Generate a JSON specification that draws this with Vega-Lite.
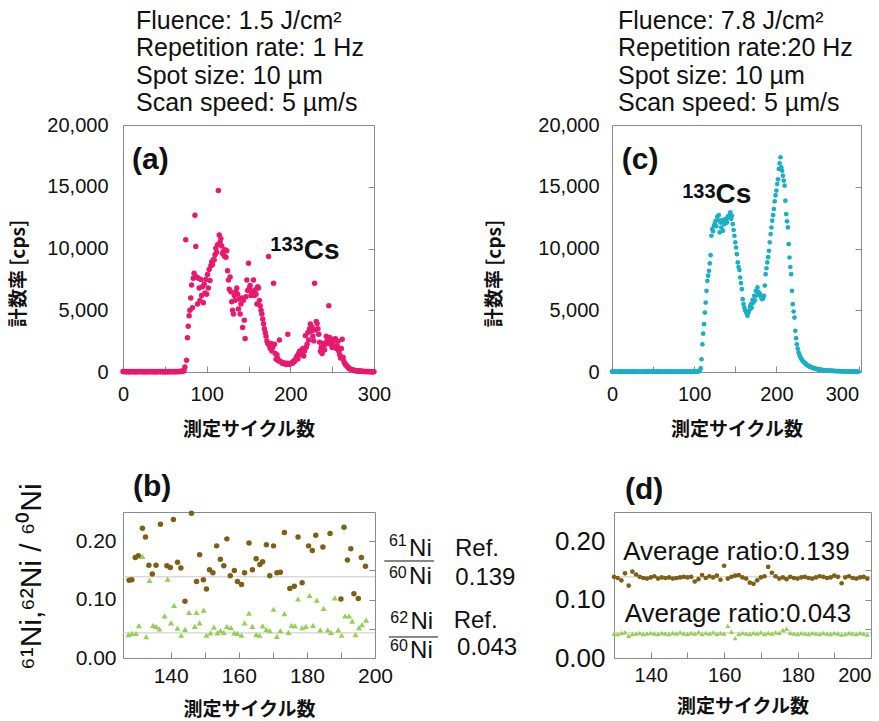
{"$schema":"https://vega.github.io/schema/vega-lite/v6.json","background":"white","padding":{"left":9,"top":8,"right":2,"bottom":2},
"config":{"font":"Liberation Sans","view":{"stroke":"#8a8a8a","strokeWidth":1},"axis":{"labelFont":"Liberation Sans","titleFont":"Liberation Sans","domain":false,"grid":false,"tickColor":"#8a8a8a","labelColor":"#111","titleColor":"#111","labelOverlap":false},"text":{"font":"Liberation Sans","color":"#111"},"title":{"color":"#111","font":"Liberation Sans"}},
"spacing":31,
"vconcat":[
{"hconcat":[
{"width":251,"height":247,
"title":{"text":["Fluence: 1.5 J/cm²","Repetition rate: 1 Hz","Spot size: 10 µm","Scan speed: 5 µm/s"],"anchor":"start","frame":"group","fontSize":25,"fontWeight":"normal","lineHeight":27.5,"dx":13,"offset":-1},
"layer":[
{"data":{"values":[{"c":0,"v":40},{"c":1,"v":30},{"c":2,"v":50},{"c":3,"v":20},{"c":4,"v":40},{"c":5,"v":30},{"c":6,"v":10},{"c":7,"v":40},{"c":8,"v":20},{"c":9,"v":30},{"c":10,"v":50},{"c":11,"v":20},{"c":12,"v":30},{"c":13,"v":40},{"c":14,"v":10},{"c":15,"v":30},{"c":16,"v":20},{"c":17,"v":40},{"c":18,"v":30},{"c":19,"v":20},{"c":20,"v":40},{"c":21,"v":30},{"c":22,"v":50},{"c":23,"v":20},{"c":24,"v":30},{"c":25,"v":10},{"c":26,"v":40},{"c":27,"v":30},{"c":28,"v":20},{"c":29,"v":30},{"c":30,"v":40},{"c":31,"v":20},{"c":32,"v":30},{"c":33,"v":50},{"c":34,"v":20},{"c":35,"v":30},{"c":36,"v":40},{"c":37,"v":10},{"c":38,"v":30},{"c":39,"v":20},{"c":40,"v":40},{"c":41,"v":30},{"c":42,"v":20},{"c":43,"v":30},{"c":44,"v":50},{"c":45,"v":20},{"c":46,"v":30},{"c":47,"v":40},{"c":48,"v":20},{"c":49,"v":30},{"c":50,"v":10},{"c":51,"v":40},{"c":52,"v":30},{"c":53,"v":20},{"c":54,"v":30},{"c":55,"v":40},{"c":56,"v":20},{"c":57,"v":30},{"c":58,"v":50},{"c":59,"v":20},{"c":60,"v":40},{"c":61,"v":30},{"c":62,"v":20},{"c":63,"v":40},{"c":64,"v":30},{"c":65,"v":50},{"c":66,"v":20},{"c":67,"v":40},{"c":68,"v":60},{"c":69,"v":30},{"c":70,"v":50},{"c":71,"v":80},{"c":72,"v":60},{"c":73,"v":150},{"c":74,"v":400},{"c":75,"v":10700},{"c":76,"v":950},{"c":77,"v":2770},{"c":78,"v":3700},{"c":79,"v":4550},{"c":80,"v":5000},{"c":81,"v":6000},{"c":82,"v":7050},{"c":83,"v":5200},{"c":84,"v":7600},{"c":85,"v":8000},{"c":86,"v":12700},{"c":87,"v":10160},{"c":88,"v":7700},{"c":89,"v":5500},{"c":90,"v":7600},{"c":91,"v":6800},{"c":92,"v":5800},{"c":93,"v":7500},{"c":94,"v":6200},{"c":95,"v":6900},{"c":96,"v":5600},{"c":97,"v":7100},{"c":98,"v":6400},{"c":99,"v":7500},{"c":100,"v":6300},{"c":101,"v":7900},{"c":102,"v":6800},{"c":103,"v":8300},{"c":104,"v":7400},{"c":105,"v":8600},{"c":106,"v":8900},{"c":107,"v":8700},{"c":108,"v":9100},{"c":109,"v":9080},{"c":110,"v":9500},{"c":111,"v":10030},{"c":112,"v":9700},{"c":113,"v":10300},{"c":114,"v":14700},{"c":115,"v":11100},{"c":116,"v":10500},{"c":117,"v":10800},{"c":118,"v":10200},{"c":119,"v":9600},{"c":120,"v":9760},{"c":121,"v":9400},{"c":122,"v":9900},{"c":123,"v":9300},{"c":124,"v":9810},{"c":125,"v":8200},{"c":126,"v":7450},{"c":127,"v":6700},{"c":128,"v":7700},{"c":129,"v":6500},{"c":130,"v":5690},{"c":131,"v":5010},{"c":132,"v":4700},{"c":133,"v":6200},{"c":134,"v":5800},{"c":135,"v":6500},{"c":136,"v":6800},{"c":137,"v":6300},{"c":138,"v":5100},{"c":139,"v":5900},{"c":140,"v":4700},{"c":141,"v":5500},{"c":142,"v":6000},{"c":143,"v":3600},{"c":144,"v":5800},{"c":145,"v":4200},{"c":146,"v":2710},{"c":147,"v":6100},{"c":148,"v":7450},{"c":149,"v":6600},{"c":150,"v":8800},{"c":151,"v":6800},{"c":152,"v":7000},{"c":153,"v":6200},{"c":154,"v":6500},{"c":155,"v":6400},{"c":156,"v":7450},{"c":157,"v":6200},{"c":158,"v":6670},{"c":159,"v":6300},{"c":160,"v":5500},{"c":161,"v":6900},{"c":162,"v":6800},{"c":163,"v":5800},{"c":164,"v":5360},{"c":165,"v":5000},{"c":166,"v":4690},{"c":167,"v":4300},{"c":168,"v":3900},{"c":169,"v":3500},{"c":170,"v":3200},{"c":171,"v":2900},{"c":172,"v":2520},{"c":173,"v":2300},{"c":174,"v":9350},{"c":175,"v":2120},{"c":176,"v":1900},{"c":177,"v":2300},{"c":178,"v":1700},{"c":179,"v":2000},{"c":180,"v":7180},{"c":181,"v":2250},{"c":182,"v":1500},{"c":183,"v":1030},{"c":184,"v":1400},{"c":185,"v":1100},{"c":186,"v":900},{"c":187,"v":2600},{"c":188,"v":870},{"c":189,"v":800},{"c":190,"v":750},{"c":191,"v":680},{"c":192,"v":700},{"c":193,"v":730},{"c":194,"v":650},{"c":195,"v":600},{"c":196,"v":700},{"c":197,"v":3060},{"c":198,"v":650},{"c":199,"v":620},{"c":200,"v":700},{"c":201,"v":680},{"c":202,"v":750},{"c":203,"v":730},{"c":204,"v":900},{"c":205,"v":850},{"c":206,"v":1000},{"c":207,"v":1140},{"c":208,"v":1300},{"c":209,"v":1050},{"c":210,"v":1500},{"c":211,"v":1680},{"c":212,"v":1400},{"c":213,"v":1750},{"c":214,"v":1500},{"c":215,"v":1900},{"c":216,"v":1300},{"c":217,"v":1700},{"c":218,"v":2930},{"c":219,"v":2000},{"c":220,"v":2250},{"c":221,"v":3200},{"c":222,"v":2600},{"c":223,"v":3500},{"c":224,"v":3880},{"c":225,"v":3300},{"c":226,"v":3600},{"c":227,"v":2900},{"c":228,"v":2520},{"c":229,"v":7180},{"c":230,"v":3400},{"c":231,"v":4100},{"c":232,"v":3930},{"c":233,"v":3500},{"c":234,"v":3060},{"c":235,"v":2400},{"c":236,"v":1680},{"c":237,"v":2000},{"c":238,"v":1500},{"c":239,"v":1900},{"c":240,"v":2300},{"c":241,"v":1800},{"c":242,"v":2250},{"c":243,"v":2900},{"c":244,"v":2600},{"c":245,"v":2300},{"c":246,"v":5370},{"c":247,"v":2800},{"c":248,"v":2520},{"c":249,"v":2200},{"c":250,"v":1980},{"c":251,"v":2400},{"c":252,"v":2650},{"c":253,"v":2000},{"c":254,"v":2700},{"c":255,"v":1900},{"c":256,"v":2120},{"c":257,"v":2500},{"c":258,"v":1680},{"c":259,"v":1400},{"c":260,"v":1140},{"c":261,"v":1900},{"c":262,"v":2650},{"c":263,"v":1200},{"c":264,"v":870},{"c":265,"v":700},{"c":266,"v":600},{"c":267,"v":520},{"c":268,"v":460},{"c":269,"v":380},{"c":270,"v":300},{"c":271,"v":260},{"c":272,"v":230},{"c":273,"v":200},{"c":274,"v":190},{"c":275,"v":160},{"c":276,"v":140},{"c":277,"v":120},{"c":278,"v":110},{"c":279,"v":100},{"c":280,"v":90},{"c":281,"v":85},{"c":282,"v":80},{"c":283,"v":75},{"c":284,"v":70},{"c":285,"v":60},{"c":286,"v":55},{"c":287,"v":50},{"c":288,"v":45},{"c":289,"v":45},{"c":290,"v":40},{"c":291,"v":35},{"c":292,"v":40},{"c":293,"v":30},{"c":294,"v":35},{"c":295,"v":30},{"c":296,"v":25},{"c":297,"v":30},{"c":298,"v":20},{"c":299,"v":25},{"c":300,"v":20}]},
"mark":{"type":"circle","size":30,"opacity":1,"color":"#E8196E"},
"encoding":{"x":{"field":"c","type":"quantitative","scale":{"domain":[0,300],"nice":false,"zero":false},"axis":{"values":[0,50,100,150,200,250,300],"labelExpr":"datum.value % 100 === 0 ? datum.label : ''","labelOverlap":false,"format":"d","tickSize":-6,"labelPadding":18,"labelFontSize":20,"labelFlush":false,"title":"測定サイクル数","titleFont":"Noto Sans CJK JP","titleFontWeight":"bold","titleFontSize":19,"titlePadding":16}},
"y":{"field":"v","type":"quantitative","scale":{"domain":[0,20000],"nice":false},"axis":{"values":[0,5000,10000,15000,20000],"format":",d","labelOverlap":false,"ticks":false,"labelPadding":15,"labelFontSize":20,"title":"計数率  [cps]","titleFont":"Noto Sans CJK JP","titleFontWeight":"bold","titleFontSize":19,"titlePadding":18,"titleY":148}}}},
{"data":{"values":[{"c":0,"v":0}]},"mark":{"type":"point","opacity":0},"encoding":{"x":{"field":"c","type":"quantitative"},"y":{"field":"v","type":"quantitative","axis":{"orient":"right","values":[5000,10000,15000],"tickSize":-6,"labels":false,"title":null}}}},
{"data":{"values":[{"c":10.8,"v":16420,"t":"(a)"}]},"mark":{"type":"text","fontSize":30,"fontWeight":"bold","align":"left","baseline":"alphabetic"},"encoding":{"x":{"field":"c","type":"quantitative"},"y":{"field":"v","type":"quantitative","axis":null},"text":{"field":"t"}}},
{"data":{"values":[{"c":216,"v":9800,"t":"133"}]},"mark":{"type":"text","fontSize":20,"fontWeight":"bold","align":"right","baseline":"alphabetic"},"encoding":{"x":{"field":"c","type":"quantitative"},"y":{"field":"v","type":"quantitative","axis":null},"text":{"field":"t"}}},
{"data":{"values":[{"c":216,"v":9130,"t":"Cs"}]},"mark":{"type":"text","fontSize":28,"fontWeight":"bold","align":"left","baseline":"alphabetic"},"encoding":{"x":{"field":"c","type":"quantitative"},"y":{"field":"v","type":"quantitative","axis":null},"text":{"field":"t"}}}
],
"resolve":{"axis":{"y":"independent"}}},
{"width":249,"height":247,
"title":{"text":["Fluence: 7.8 J/cm²","Repetition rate:20 Hz","Spot size: 10 µm","Scan speed: 5 µm/s"],"anchor":"start","frame":"group","fontSize":25,"fontWeight":"normal","lineHeight":27.5,"dx":6,"offset":-1},
"layer":[
{"data":{"values":[{"c":0,"v":30},{"c":1,"v":40},{"c":2,"v":20},{"c":3,"v":30},{"c":4,"v":50},{"c":5,"v":20},{"c":6,"v":40},{"c":7,"v":30},{"c":8,"v":20},{"c":9,"v":40},{"c":10,"v":30},{"c":11,"v":10},{"c":12,"v":30},{"c":13,"v":40},{"c":14,"v":20},{"c":15,"v":30},{"c":16,"v":50},{"c":17,"v":20},{"c":18,"v":30},{"c":19,"v":40},{"c":20,"v":20},{"c":21,"v":30},{"c":22,"v":10},{"c":23,"v":40},{"c":24,"v":30},{"c":25,"v":20},{"c":26,"v":40},{"c":27,"v":30},{"c":28,"v":50},{"c":29,"v":20},{"c":30,"v":30},{"c":31,"v":40},{"c":32,"v":20},{"c":33,"v":30},{"c":34,"v":10},{"c":35,"v":40},{"c":36,"v":30},{"c":37,"v":20},{"c":38,"v":30},{"c":39,"v":40},{"c":40,"v":20},{"c":41,"v":30},{"c":42,"v":50},{"c":43,"v":20},{"c":44,"v":40},{"c":45,"v":30},{"c":46,"v":20},{"c":47,"v":30},{"c":48,"v":40},{"c":49,"v":10},{"c":50,"v":30},{"c":51,"v":20},{"c":52,"v":40},{"c":53,"v":30},{"c":54,"v":20},{"c":55,"v":50},{"c":56,"v":30},{"c":57,"v":20},{"c":58,"v":40},{"c":59,"v":30},{"c":60,"v":20},{"c":61,"v":30},{"c":62,"v":40},{"c":63,"v":10},{"c":64,"v":30},{"c":65,"v":20},{"c":66,"v":40},{"c":67,"v":30},{"c":68,"v":20},{"c":69,"v":30},{"c":70,"v":50},{"c":71,"v":20},{"c":72,"v":30},{"c":73,"v":40},{"c":74,"v":20},{"c":75,"v":30},{"c":76,"v":10},{"c":77,"v":40},{"c":78,"v":30},{"c":79,"v":20},{"c":80,"v":30},{"c":81,"v":40},{"c":82,"v":20},{"c":83,"v":30},{"c":84,"v":50},{"c":85,"v":20},{"c":86,"v":30},{"c":87,"v":40},{"c":88,"v":20},{"c":89,"v":30},{"c":90,"v":10},{"c":91,"v":40},{"c":92,"v":30},{"c":93,"v":20},{"c":94,"v":30},{"c":95,"v":40},{"c":96,"v":20},{"c":97,"v":30},{"c":98,"v":50},{"c":99,"v":30},{"c":100,"v":40},{"c":101,"v":30},{"c":102,"v":50},{"c":103,"v":40},{"c":104,"v":60},{"c":105,"v":50},{"c":106,"v":70},{"c":107,"v":120},{"c":108,"v":300},{"c":109,"v":1030},{"c":110,"v":2240},{"c":111,"v":3100},{"c":112,"v":3870},{"c":113,"v":4810},{"c":114,"v":5620},{"c":115,"v":6570},{"c":116,"v":7380},{"c":117,"v":7800},{"c":118,"v":8190},{"c":119,"v":8790},{"c":120,"v":9460},{"c":121,"v":11030},{"c":122,"v":11570},{"c":123,"v":11400},{"c":124,"v":11840},{"c":125,"v":12000},{"c":126,"v":12240},{"c":127,"v":11800},{"c":128,"v":12570},{"c":129,"v":12300},{"c":130,"v":12710},{"c":131,"v":11300},{"c":132,"v":12100},{"c":133,"v":11700},{"c":134,"v":12300},{"c":135,"v":11440},{"c":136,"v":12000},{"c":137,"v":11980},{"c":138,"v":12400},{"c":139,"v":12250},{"c":140,"v":12100},{"c":141,"v":12600},{"c":142,"v":12520},{"c":143,"v":12700},{"c":144,"v":12930},{"c":145,"v":12400},{"c":146,"v":12650},{"c":147,"v":11980},{"c":148,"v":11500},{"c":149,"v":11030},{"c":150,"v":10500},{"c":151,"v":10080},{"c":152,"v":9540},{"c":153,"v":8870},{"c":154,"v":8500},{"c":155,"v":8250},{"c":156,"v":7650},{"c":157,"v":7200},{"c":158,"v":6710},{"c":159,"v":5900},{"c":160,"v":5500},{"c":161,"v":5220},{"c":162,"v":5000},{"c":163,"v":4870},{"c":164,"v":4700},{"c":165,"v":4550},{"c":166,"v":4800},{"c":167,"v":5000},{"c":168,"v":5300},{"c":169,"v":5490},{"c":170,"v":5200},{"c":171,"v":5820},{"c":172,"v":5600},{"c":173,"v":6170},{"c":174,"v":5800},{"c":175,"v":6570},{"c":176,"v":6200},{"c":177,"v":6850},{"c":178,"v":6500},{"c":179,"v":6300},{"c":180,"v":6350},{"c":181,"v":6100},{"c":182,"v":5950},{"c":183,"v":5900},{"c":184,"v":6000},{"c":185,"v":6170},{"c":186,"v":7000},{"c":187,"v":7920},{"c":188,"v":8400},{"c":189,"v":8870},{"c":190,"v":9300},{"c":191,"v":9810},{"c":192,"v":10500},{"c":193,"v":11170},{"c":194,"v":11700},{"c":195,"v":12250},{"c":196,"v":12700},{"c":197,"v":13200},{"c":198,"v":13820},{"c":199,"v":14300},{"c":200,"v":14690},{"c":201,"v":15220},{"c":202,"v":15600},{"c":203,"v":16440},{"c":204,"v":16900},{"c":205,"v":17390},{"c":206,"v":16580},{"c":207,"v":16300},{"c":208,"v":15900},{"c":209,"v":15500},{"c":210,"v":15090},{"c":211,"v":13870},{"c":212,"v":12790},{"c":213,"v":12200},{"c":214,"v":11710},{"c":215,"v":10350},{"c":216,"v":9270},{"c":217,"v":8500},{"c":218,"v":7920},{"c":219,"v":6570},{"c":220,"v":5490},{"c":221,"v":4900},{"c":222,"v":4410},{"c":223,"v":3330},{"c":224,"v":2740},{"c":225,"v":2240},{"c":226,"v":1900},{"c":227,"v":1600},{"c":228,"v":1400},{"c":229,"v":1250},{"c":230,"v":1100},{"c":231,"v":1000},{"c":232,"v":900},{"c":233,"v":820},{"c":234,"v":760},{"c":235,"v":700},{"c":236,"v":640},{"c":237,"v":590},{"c":238,"v":540},{"c":239,"v":500},{"c":240,"v":460},{"c":241,"v":430},{"c":242,"v":400},{"c":243,"v":370},{"c":244,"v":340},{"c":245,"v":320},{"c":246,"v":300},{"c":247,"v":280},{"c":248,"v":260},{"c":249,"v":245},{"c":250,"v":230},{"c":251,"v":215},{"c":252,"v":200},{"c":253,"v":190},{"c":254,"v":180},{"c":255,"v":170},{"c":256,"v":160},{"c":257,"v":150},{"c":258,"v":145},{"c":259,"v":140},{"c":260,"v":130},{"c":261,"v":125},{"c":262,"v":118},{"c":263,"v":116},{"c":264,"v":108},{"c":265,"v":106},{"c":266,"v":99},{"c":267,"v":97},{"c":268,"v":90},{"c":269,"v":89},{"c":270,"v":84},{"c":271,"v":83},{"c":272,"v":77},{"c":273,"v":78},{"c":274,"v":72},{"c":275,"v":71},{"c":276,"v":66},{"c":277,"v":65},{"c":278,"v":60},{"c":279,"v":59},{"c":280,"v":55},{"c":281,"v":53},{"c":282,"v":49},{"c":283,"v":50},{"c":284,"v":45},{"c":285,"v":46},{"c":286,"v":41},{"c":287,"v":42},{"c":288,"v":38},{"c":289,"v":37},{"c":290,"v":35},{"c":291,"v":33},{"c":292,"v":31},{"c":293,"v":30},{"c":294,"v":28},{"c":295,"v":29},{"c":296,"v":26},{"c":297,"v":25},{"c":298,"v":24},{"c":299,"v":22},{"c":300,"v":21}]},
"mark":{"type":"circle","size":22,"opacity":1,"color":"#1AAFC5"},
"encoding":{"x":{"field":"c","type":"quantitative","scale":{"domain":[0,303],"nice":false,"zero":false},"axis":{"values":[0,50,100,150,200,250,300],"labelExpr":"datum.value % 100 === 0 ? datum.label : ''","labelOverlap":false,"format":"d","tickSize":-6,"labelPadding":18,"labelFontSize":20,"labelFlush":false,"labelAlign":{"condition":{"test":"datum.value === 300","value":"right"},"value":"center"},"title":"測定サイクル数","titleFont":"Noto Sans CJK JP","titleFontWeight":"bold","titleFontSize":19,"titlePadding":16}},
"y":{"field":"v","type":"quantitative","scale":{"domain":[0,20000],"nice":false},"axis":{"values":[0,5000,10000,15000,20000],"format":",d","labelOverlap":false,"ticks":false,"labelPadding":13,"labelFontSize":20,"title":"計数率  [cps]","titleFont":"Noto Sans CJK JP","titleFontWeight":"bold","titleFontSize":19,"titlePadding":33,"titleY":148}}}},
{"data":{"values":[{"c":0,"v":0}]},"mark":{"type":"point","opacity":0},"encoding":{"x":{"field":"c","type":"quantitative"},"y":{"field":"v","type":"quantitative","axis":{"orient":"right","values":[5000,10000,15000],"tickSize":-6,"labels":false,"title":null}}}},
{"data":{"values":[{"c":12,"v":16440,"t":"(c)"}]},"mark":{"type":"text","fontSize":30,"fontWeight":"bold","align":"left","baseline":"alphabetic"},"encoding":{"x":{"field":"c","type":"quantitative"},"y":{"field":"v","type":"quantitative","axis":null},"text":{"field":"t"}}},
{"data":{"values":[{"c":126,"v":14070,"t":"133"}]},"mark":{"type":"text","fontSize":20,"fontWeight":"bold","align":"right","baseline":"alphabetic"},"encoding":{"x":{"field":"c","type":"quantitative"},"y":{"field":"v","type":"quantitative","axis":null},"text":{"field":"t"}}},
{"data":{"values":[{"c":126,"v":13710,"t":"Cs"}]},"mark":{"type":"text","fontSize":28,"fontWeight":"bold","align":"left","baseline":"alphabetic"},"encoding":{"x":{"field":"c","type":"quantitative"},"y":{"field":"v","type":"quantitative","axis":null},"text":{"field":"t"}}}
],
"resolve":{"axis":{"y":"independent"}}}
],"spacing":93},
{"hconcat":[
{"width":252,"height":146,
"title":{"text":"(b)","anchor":"start","frame":"group","fontSize":30,"fontWeight":"bold","dx":10,"offset":-19},
"layer":[
{"data":{"values":[{"v":0.139},{"v":0.043}]},"mark":{"type":"rule","color":"#c8c8c8","strokeWidth":1},"encoding":{"y":{"field":"v","type":"quantitative","axis":null}}},
{"data":{"values":[{"c":127.8,"v":0.133},{"c":128.6,"v":0.134},{"c":129.6,"v":0.172},{"c":130.5,"v":0.175},{"c":131.7,"v":0.222},{"c":132.6,"v":0.207},{"c":133.6,"v":0.159},{"c":134.6,"v":0.144},{"c":135.7,"v":0.159},{"c":137,"v":0.229},{"c":138.9,"v":0.158},{"c":139.9,"v":0.155},{"c":140.8,"v":0.237},{"c":142,"v":0.164},{"c":143,"v":0.154},{"c":144.2,"v":0.097},{"c":146.1,"v":0.248},{"c":147.6,"v":0.131},{"c":148.5,"v":0.177},{"c":149.6,"v":0.134},{"c":150.5,"v":0.118},{"c":151.4,"v":0.151},{"c":152.4,"v":0.146},{"c":153.5,"v":0.192},{"c":154.6,"v":0.169},{"c":155.6,"v":0.158},{"c":156.5,"v":0.204},{"c":157.5,"v":0.141},{"c":158.7,"v":0.15},{"c":159.6,"v":0.131},{"c":160.8,"v":0.126},{"c":161.7,"v":0.146},{"c":163,"v":0.197},{"c":164,"v":0.151},{"c":165.1,"v":0.17},{"c":166.2,"v":0.16},{"c":167,"v":0.165},{"c":168.1,"v":0.194},{"c":169.1,"v":0.141},{"c":170.2,"v":0.192},{"c":171.2,"v":0.146},{"c":172.2,"v":0.147},{"c":173.4,"v":0.215},{"c":175,"v":0.119},{"c":176.3,"v":0.123},{"c":177.4,"v":0.207},{"c":178.6,"v":0.129},{"c":180.5,"v":0.192},{"c":181.6,"v":0.184},{"c":182.6,"v":0.21},{"c":184.7,"v":0.19},{"c":186.8,"v":0.213},{"c":190,"v":0.101},{"c":190.9,"v":0.224},{"c":191.9,"v":0.168},{"c":192.9,"v":0.187},{"c":193.8,"v":0.11},{"c":195.1,"v":0.102},{"c":196,"v":0.172},{"c":197.2,"v":0.157}]},
"mark":{"type":"circle","size":30,"opacity":1,"color":"#7F5F12"},
"encoding":{"x":{"field":"c","type":"quantitative","scale":{"domain":[126,200],"nice":false,"zero":false},"axis":{"values":[140,150,160,170,180,190,200],"labelExpr":"datum.value % 20 === 0 ? datum.label : ''","labelOverlap":false,"format":"d","tickSize":-6,"labelPadding":13,"labelFontSize":21,"labelFlush":false,"title":"測定サイクル数","titleFont":"Noto Sans CJK JP","titleFontWeight":"bold","titleFontSize":19,"titlePadding":14}},
"y":{"field":"v","type":"quantitative","scale":{"domain":[0,0.25],"nice":false,"zero":false},"axis":{"values":[0,0.1,0.2],"format":".2f","labelOverlap":false,"ticks":false,"labelPadding":7,"labelFontSize":21,"title":"⁶¹Ni,⁶²Ni / ⁶⁰Ni","titleFontSize":30,"titleFontWeight":"normal","titlePadding":29,"titleY":64}}}},
{"data":{"values":[{"c":127.6,"v":0.04},{"c":128.6,"v":0.042},{"c":129.8,"v":0.042},{"c":130.7,"v":0.0555},{"c":131.7,"v":0.174},{"c":132.8,"v":0.0365},{"c":133.8,"v":0.133},{"c":134.8,"v":0.056},{"c":135.7,"v":0.054},{"c":136.7,"v":0.05},{"c":138.2,"v":0.072},{"c":139.1,"v":0.135},{"c":140.1,"v":0.06},{"c":141,"v":0.09},{"c":142,"v":0.051},{"c":143.1,"v":0.039},{"c":144.2,"v":0.049},{"c":145.4,"v":0.078},{"c":147.1,"v":0.054},{"c":147.6,"v":0.078},{"c":148.5,"v":0.06},{"c":149.7,"v":0.082},{"c":150.5,"v":0.039},{"c":151.7,"v":0.043},{"c":152.7,"v":0.053},{"c":153.7,"v":0.043},{"c":154.6,"v":0.047},{"c":155.6,"v":0.044},{"c":156.5,"v":0.054},{"c":157.7,"v":0.052},{"c":158.7,"v":0.043},{"c":159.6,"v":0.042},{"c":160.8,"v":0.039},{"c":161.7,"v":0.06},{"c":163,"v":0.077},{"c":164,"v":0.054},{"c":165.1,"v":0.04},{"c":166.1,"v":0.039},{"c":167,"v":0.055},{"c":168.1,"v":0.049},{"c":169.1,"v":0.047},{"c":170.2,"v":0.0835},{"c":171.2,"v":0.037},{"c":172.2,"v":0.047},{"c":173.4,"v":0.076},{"c":174.6,"v":0.044},{"c":175.5,"v":0.056},{"c":176.5,"v":0.055},{"c":177.4,"v":0.101},{"c":178.6,"v":0.052},{"c":179.7,"v":0.054},{"c":180.8,"v":0.107},{"c":181.8,"v":0.056},{"c":182.9,"v":0.099},{"c":183.9,"v":0.048},{"c":184.9,"v":0.085},{"c":186.1,"v":0.048},{"c":187.1,"v":0.044},{"c":188.2,"v":0.103},{"c":189.2,"v":0.048},{"c":190.2,"v":0.039},{"c":191.2,"v":0.072},{"c":192.4,"v":0.072},{"c":193.3,"v":0.063},{"c":194.3,"v":0.04},{"c":195.3,"v":0.052},{"c":196.2,"v":0.057},{"c":197.4,"v":0.065}]},
"mark":{"type":"point","shape":"triangle-up","filled":true,"size":36,"opacity":1,"color":"#93D150"},
"encoding":{"x":{"field":"c","type":"quantitative"},"y":{"field":"v","type":"quantitative","axis":null}}},
{"data":{"values":[{"c":130,"v":0}]},"mark":{"type":"point","opacity":0},"encoding":{"x":{"field":"c","type":"quantitative"},"y":{"field":"v","type":"quantitative","axis":{"orient":"right","values":[0.05,0.1,0.15,0.2],"tickSize":-6,"labels":false,"title":null}}}},
{"data":{"values":[{"c":204.1,"v":0.1918,"t":"61"},{"c":204.1,"v":0.137,"t":"60"},{"c":204.5,"v":0.0604,"t":"62"},{"c":204.4,"v":0.012,"t":"60"}]},"mark":{"type":"text","fontSize":16,"align":"left","baseline":"alphabetic"},"encoding":{"x":{"field":"c","type":"quantitative"},"y":{"field":"v","type":"quantitative","axis":null},"text":{"field":"t"}}},
{"data":{"values":[{"c":210,"v":0.1747,"t":"Ni"},{"c":210,"v":0.1267,"t":"Ni"},{"c":210.4,"v":0.0497,"t":"Ni"},{"c":210.3,"v":0.0005,"t":"Ni"},{"c":223.5,"v":0.1747,"t":"Ref."},{"c":223.6,"v":0.125,"t":"0.139"},{"c":223.1,"v":0.0519,"t":"Ref."},{"c":224.1,"v":0.0051,"t":"0.043"}]},"mark":{"type":"text","fontSize":24,"align":"left","baseline":"alphabetic"},"encoding":{"x":{"field":"c","type":"quantitative"},"y":{"field":"v","type":"quantitative","axis":null},"text":{"field":"t"}}},
{"data":{"values":[{"c":202.7,"c2":217.3,"v":0.1661},{"c":204.1,"c2":218.5,"v":0.036}]},"mark":{"type":"rule","color":"#111","strokeWidth":1},"encoding":{"x":{"field":"c","type":"quantitative"},"x2":{"field":"c2"},"y":{"field":"v","type":"quantitative","axis":null}}}
],
"resolve":{"axis":{"y":"independent"}}},
{"width":257,"height":146,
"title":{"text":"(d)","anchor":"start","frame":"group","fontSize":30,"fontWeight":"bold","dx":11,"offset":7},
"layer":[
{"data":{"values":[{"v":0.139},{"v":0.043}]},"mark":{"type":"rule","color":"#c8c8c8","strokeWidth":1},"encoding":{"y":{"field":"v","type":"quantitative","axis":null}}},
{"data":{"values":[{"c":130,"v":0.139},{"c":131,"v":0.137},{"c":132,"v":0.133},{"c":133,"v":0.145},{"c":134,"v":0.124},{"c":135,"v":0.148},{"c":136,"v":0.143},{"c":137,"v":0.139},{"c":138,"v":0.137},{"c":139,"v":0.136},{"c":140,"v":0.138},{"c":141,"v":0.14},{"c":142,"v":0.136},{"c":143,"v":0.138},{"c":144,"v":0.137},{"c":145,"v":0.138},{"c":146,"v":0.136},{"c":147,"v":0.137},{"c":148,"v":0.138},{"c":149,"v":0.139},{"c":150,"v":0.138},{"c":151,"v":0.139},{"c":152,"v":0.131},{"c":153,"v":0.135},{"c":154,"v":0.142},{"c":155,"v":0.137},{"c":156,"v":0.14},{"c":157,"v":0.138},{"c":158,"v":0.141},{"c":159,"v":0.134},{"c":160,"v":0.158},{"c":161,"v":0.136},{"c":162,"v":0.139},{"c":163,"v":0.141},{"c":164,"v":0.142},{"c":165,"v":0.138},{"c":166,"v":0.136},{"c":167,"v":0.129},{"c":168,"v":0.127},{"c":169,"v":0.133},{"c":170,"v":0.138},{"c":171,"v":0.14},{"c":172,"v":0.156},{"c":173,"v":0.146},{"c":174,"v":0.14},{"c":175,"v":0.136},{"c":176,"v":0.138},{"c":177,"v":0.135},{"c":178,"v":0.139},{"c":179,"v":0.137},{"c":180,"v":0.136},{"c":181,"v":0.138},{"c":182,"v":0.139},{"c":183,"v":0.137},{"c":184,"v":0.136},{"c":185,"v":0.138},{"c":186,"v":0.14},{"c":187,"v":0.139},{"c":188,"v":0.137},{"c":189,"v":0.138},{"c":190,"v":0.141},{"c":191,"v":0.139},{"c":192,"v":0.128},{"c":193,"v":0.138},{"c":194,"v":0.14},{"c":195,"v":0.137},{"c":196,"v":0.136},{"c":197,"v":0.138},{"c":198,"v":0.139},{"c":199,"v":0.136}]},
"mark":{"type":"circle","size":22,"opacity":1,"color":"#7F5F12"},
"encoding":{"x":{"field":"c","type":"quantitative","scale":{"domain":[130,200],"nice":false,"zero":false},"axis":{"values":[140,150,160,170,180,190,200],"labelExpr":"datum.value % 20 === 0 ? datum.label : ''","labelOverlap":false,"format":"d","tickSize":-6,"labelPadding":13,"labelFontSize":20,"labelFlush":false,"labelAlign":{"condition":{"test":"datum.value === 200","value":"right"},"value":"center"},"title":"測定サイクル数","titleFont":"Noto Sans CJK JP","titleFontWeight":"bold","titleFontSize":19,"titlePadding":12}},
"y":{"field":"v","type":"quantitative","scale":{"domain":[0,0.25],"nice":false,"zero":false},"axis":{"values":[0,0.1,0.2],"format":".2f","labelOverlap":false,"ticks":false,"labelPadding":9,"labelFontSize":26,"title":null}}}},
{"data":{"values":[{"c":130,"v":0.042},{"c":131,"v":0.041},{"c":132,"v":0.043},{"c":133,"v":0.044},{"c":134,"v":0.038},{"c":135,"v":0.041},{"c":136,"v":0.042},{"c":137,"v":0.043},{"c":138,"v":0.041},{"c":139,"v":0.042},{"c":140,"v":0.043},{"c":141,"v":0.042},{"c":142,"v":0.041},{"c":143,"v":0.043},{"c":144,"v":0.042},{"c":145,"v":0.041},{"c":146,"v":0.043},{"c":147,"v":0.042},{"c":148,"v":0.044},{"c":149,"v":0.042},{"c":150,"v":0.041},{"c":151,"v":0.043},{"c":152,"v":0.042},{"c":153,"v":0.044},{"c":154,"v":0.041},{"c":155,"v":0.043},{"c":156,"v":0.042},{"c":157,"v":0.044},{"c":158,"v":0.041},{"c":159,"v":0.043},{"c":160,"v":0.042},{"c":161,"v":0.055},{"c":162,"v":0.045},{"c":163,"v":0.034},{"c":164,"v":0.041},{"c":165,"v":0.043},{"c":166,"v":0.042},{"c":167,"v":0.041},{"c":168,"v":0.043},{"c":169,"v":0.042},{"c":170,"v":0.044},{"c":171,"v":0.041},{"c":172,"v":0.043},{"c":173,"v":0.042},{"c":174,"v":0.044},{"c":175,"v":0.043},{"c":176,"v":0.048},{"c":177,"v":0.05},{"c":178,"v":0.043},{"c":179,"v":0.042},{"c":180,"v":0.041},{"c":181,"v":0.043},{"c":182,"v":0.042},{"c":183,"v":0.041},{"c":184,"v":0.043},{"c":185,"v":0.042},{"c":186,"v":0.041},{"c":187,"v":0.043},{"c":188,"v":0.042},{"c":189,"v":0.041},{"c":190,"v":0.043},{"c":191,"v":0.042},{"c":192,"v":0.04},{"c":193,"v":0.041},{"c":194,"v":0.043},{"c":195,"v":0.042},{"c":196,"v":0.041},{"c":197,"v":0.043},{"c":198,"v":0.042},{"c":199,"v":0.04}]},
"mark":{"type":"point","shape":"triangle-up","filled":true,"size":26,"opacity":1,"color":"#93D150"},
"encoding":{"x":{"field":"c","type":"quantitative"},"y":{"field":"v","type":"quantitative","axis":null}}},
{"data":{"values":[{"c":130,"v":0}]},"mark":{"type":"point","opacity":0},"encoding":{"x":{"field":"c","type":"quantitative"},"y":{"field":"v","type":"quantitative","axis":{"orient":"right","values":[0.05,0.1,0.15,0.2],"tickSize":-6,"labels":false,"title":null}}}},
{"data":{"values":[{"c":132.5,"v":0.168,"t":"Average ratio:0.139"},{"c":132.9,"v":0.061,"t":"Average ratio:0.043"}]},"mark":{"type":"text","fontSize":26,"align":"left","baseline":"alphabetic"},"encoding":{"x":{"field":"c","type":"quantitative"},"y":{"field":"v","type":"quantitative","axis":null},"text":{"field":"t"}}}
],
"resolve":{"axis":{"y":"independent"}}}
],"spacing":35}
]}
